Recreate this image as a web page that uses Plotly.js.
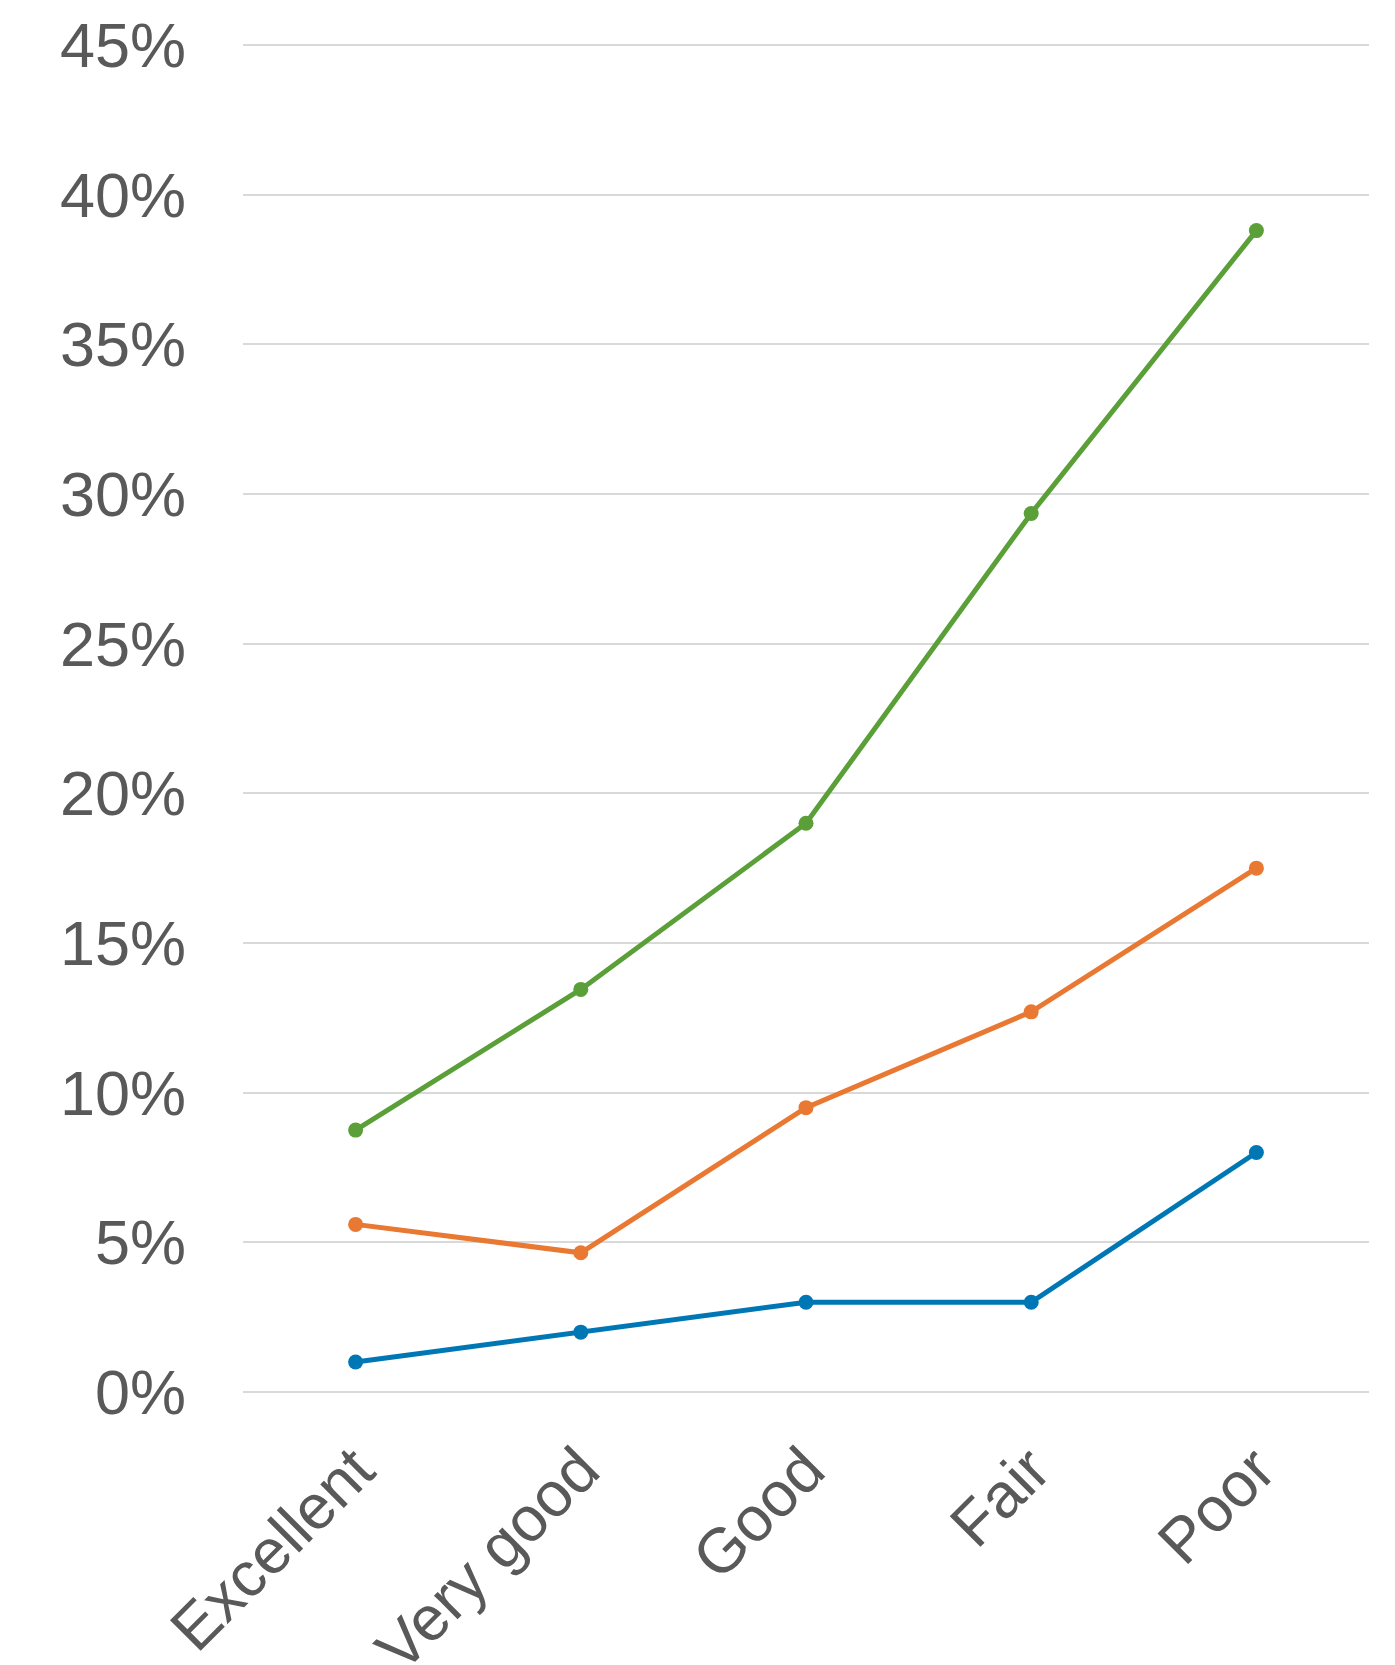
<!DOCTYPE html>
<html>
<head>
<meta charset="utf-8">
<script src="https://cdn.plot.ly/plotly-3.0.1.min.js"></script>
<style>html,body{margin:0;padding:0;background:#fff;}#chart{width:1395px;height:1665px;}</style>
</head>
<body>
<div id="chart"></div>
<script>
const categories = ["Excellent", "Very good", "Good", "Fair", "Poor"];
const seriesBlue = [1.0, 2.0, 3.0, 3.0, 8.0];
const seriesOrange = [5.6, 4.65, 9.5, 12.7, 17.5];
const seriesGreen = [8.75, 13.45, 19.0, 29.35, 38.8];
const yTicks = [0, 5, 10, 15, 20, 25, 30, 35, 40, 45];

function line(y, color) {
  return {
    x: categories, y: y, type: 'scatter', mode: 'lines+markers',
    line: {color: color, width: 5},
    marker: {color: color, size: 15},
    hoverinfo: 'skip', showlegend: false
  };
}

const data = [
  line(seriesBlue, '#0077b5'),
  line(seriesOrange, '#e97832'),
  line(seriesGreen, '#5a9f38')
];

const layout = {
  width: 1395, height: 1665,
  margin: {l: 243, r: 26, t: 42, b: 270},
  paper_bgcolor: '#ffffff', plot_bgcolor: '#ffffff',
  font: {family: 'Liberation Sans, Arial, sans-serif', color: '#595959', size: 63},
  showlegend: false,
  xaxis: {
    type: 'category', range: [-0.5, 4.5],
    showgrid: false, zeroline: false, showline: false,
    tickangle: -45, ticks: '', ticklabelstandoff: 24,
    tickfont: {size: 63, color: '#595959'}
  },
  yaxis: {
    range: [-0.1, 45.1], tickvals: yTicks, ticktext: yTicks.map(v => v + '%'),
    showgrid: true, gridcolor: '#d9d9d9', gridwidth: 2,
    zeroline: false, showline: false, ticks: '',
    ticklabelstandoff: 56,
    tickfont: {size: 63, color: '#595959'}
  }
};

Plotly.newPlot('chart', data, layout, {displayModeBar: false, staticPlot: true});
</script>
</body>
</html>
